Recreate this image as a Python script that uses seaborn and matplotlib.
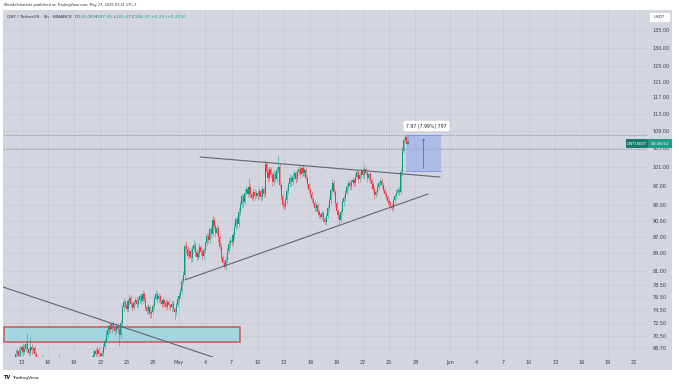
import numpy as np
import pandas as pd
import matplotlib
matplotlib.use("Agg")
import matplotlib.pyplot as plt
from matplotlib.patches import Rectangle
from matplotlib.ticker import NullLocator, FixedLocator, NullFormatter
import seaborn as sns

sns.set_theme(style="white")
plt.rcParams['font.family'] = ['DejaVu Sans']

W, H = 679, 385
BG = '#d3d6de'
GRID = '#c7cad2'
UP = '#089981'
DOWN = '#f23645'

# ---------------- data (4h candles, index 0 = Apr 11 00:00) ----------------
first_open = 64.3
closes = [
    64.5, 65.2, 64.8, 65.6, 66.1, 66.8,
    66.4, 67.0, 67.9, 68.3, 67.6, 68.4,
    68.8, 68.1, 68.6, 69.3, 68.5, 68.0,
    68.9, 68.4, 68.7, 67.8, 67.2, 66.5,
    66.0, 66.7, 67.3, 66.2, 65.4, 64.9,
    64.2, 63.8, 64.5, 63.9, 63.2, 63.6,
    64.1, 64.8, 65.3, 64.6, 64.0, 63.7,
    63.5, 63.9, 64.4, 64.1, 63.8, 64.2,
    64.6, 64.3, 64.9, 65.2, 64.7, 65.0,
    65.4, 65.1, 65.7, 66.2, 65.8, 66.3,
    66.9, 67.6, 68.2, 67.9, 68.4, 67.8,
    67.5, 68.0, 68.9, 69.8, 70.6, 71.4,
    72.0, 71.6, 72.3, 71.8, 71.2, 72.0,
    71.5, 70.6, 72.4, 74.9, 75.8, 75.2,
    74.6, 75.9, 76.4, 75.5, 74.8, 75.7,
    76.1, 75.4, 76.0, 76.8, 75.9, 77.1,
    76.2, 75.0, 74.3, 74.9, 73.8, 74.2,
    75.1, 76.3, 77.0, 76.2, 76.8, 75.9,
    75.4, 76.0, 75.6, 75.0, 75.8, 75.2,
    74.9, 75.5, 74.7, 74.2, 75.3, 76.2,
    76.8, 77.6, 79.2, 80.3, 85.4, 84.7,
    83.6, 84.5, 83.1, 84.8, 85.6, 84.2,
    83.4, 84.0, 85.1, 84.3, 83.5, 84.6,
    85.8, 87.1, 86.5, 88.4, 87.6, 90.2,
    89.0, 87.8, 88.6, 86.9, 85.2, 83.4,
    82.3, 81.6, 82.9, 84.5, 85.7, 86.3,
    86.0, 87.4, 88.9, 90.3, 89.4, 91.8,
    93.2, 94.8, 93.6, 95.5, 96.3, 95.4,
    96.8, 95.2, 94.5, 95.8, 94.9, 95.6,
    94.8, 95.9, 94.6, 96.3, 95.3, 101.6,
    99.8, 98.6, 100.4, 99.2, 97.8, 99.5,
    98.4, 100.2, 101.0, 97.2, 94.8, 93.1,
    92.9, 94.1, 96.0, 97.3, 98.6, 97.8,
    98.9, 99.6, 98.3, 99.8, 100.6, 99.4,
    100.8, 99.7, 100.3, 98.7, 97.4, 96.2,
    95.3, 94.2, 93.5, 92.6, 93.1, 91.8,
    91.2, 90.8, 91.5, 90.4, 89.8, 91.0,
    92.5, 94.0, 96.1, 97.6, 95.8, 93.4,
    92.0, 91.1, 90.2, 91.8, 93.6, 94.5,
    95.6, 96.8, 97.5, 96.9, 97.8, 98.2,
    97.6, 98.9, 99.8, 98.4, 99.3, 100.1,
    99.2, 100.5, 99.7, 98.6, 99.4, 98.2,
    97.4, 96.3, 95.1, 95.7, 96.8, 97.5,
    98.0, 97.1, 96.2, 95.4, 94.6, 93.8,
    93.5, 92.9, 92.6, 94.0, 94.8, 95.6,
    96.2, 95.7, 99.8, 104.5, 106.9, 107.5,
    106.08, 106.37,
]
upper_wicks = [
    .4, .5, .3, .6, .4, .5,
    .5, .4, .6, .3, .5, .7,
    .4, .6, .5, .3, 1.7, .4,
    1.4, .5, .3, .4, .5, .3,
    .4, .5, .5, .3, .4, .3,
    .4, .3, .5, .4, .3, .4,
    .5, .6, 2.6, .4, .3, .5,
    .3, .4, .5, .3, .4, .3,
    .4, .5, .3, .6, .4, .3,
    .5, .3, .4, .6, .3, .5,
    .5, .6, .4, .5, .6, .4,
    .3, .4, .5, .4, .6, .5,
    .6, .4, .3, .5, .4, .5,
    .4, .3, .5, .4, .6, .5,
    .5, .4, .6, .5, .3, .4,
    .4, .6, .5, .3, .4, .6,
    .5, .4, .3, .5, .4, .3,
    .4, .5, .7, .4, .5, .3,
    .4, .5, .3, .4, .5, .4,
    .3, .4, .5, .3, .4, .5,
    .5, .4, .6, .7, .5, .8,
    .6, .7, .5, .6, .8, .5,
    .5, .6, .7, .5, .4, .6,
    .5, .7, .6, .5, .6, .8,
    .6, .5, .7, .4, .5, .6,
    .4, .5, .6, .5, .7, .6,
    .5, .6, .7, .5, .6, .8,
    .7, .6, .5, .8, .6, .5,
    1.8, .6, .5, .7, .5, .6,
    .6, .7, .5, .6, .5, .8,
    .7, .6, .8, .5, .6, .7,
    .6, .7, 2.5, .6, .5, .4,
    .5, .6, .7, .5, .8, .6,
    .7, .6, .5, .7, .6, .5,
    .6, .5, .7, .6, .5, .4,
    .5, .6, .4, .5, .6, .4,
    .5, .4, .6, .5, .4, .5,
    .6, .7, .5, .8, .6, .5,
    .5, .4, .6, .5, .7, .6,
    .6, .5, .7, .6, .5, .6,
    .5, .7, .6, .5, .6, .7,
    .6, .9, .5, .6, .5, .4,
    .5, .6, .4, .5, .6, .5,
    .7, .5, .4, .6, .5, .4,
    .5, .4, .6, .5, .6, .7,
    .6, .5, .7, .8, .6, .5,
    .45, 1.58,
]
lower_wicks = [
    .4, .5, .3, .4, .5, .3,
    .5, .4, .3, .6, .4, .3,
    .4, .5, .3, .4, .5, .4,
    .3, .5, .4, .3, .5, .4,
    .4, .3, .5, .4, .3, .5,
    .3, .4, .3, .5, .4, .3,
    .4, .3, .5, .4, .3, .4,
    .3, .4, .3, .4, .5, .3,
    .4, .3, .5, .4, .3, .4,
    .3, .4, .3, .5, .4, .3,
    .5, .4, .6, .3, .5, .4,
    .4, .3, .5, .4, .3, .5,
    .4, .5, .6, .4, .5, .3,
    .5, 1.6, .4, .5, .6, .4,
    .5, .4, .6, .5, .4, .3,
    .4, .6, .5, .4, .5, .3,
    .4, .5, .6, .4, .6, .5,
    .4, .5, .3, .6, .4, .5,
    .5, .4, .6, .5, .4, .5,
    .4, .5, .6, 1.3, .5, .4,
    .5, .4, .6, .5, .7, .6,
    .6, .5, .7, .6, .5, .7,
    .5, .6, .7, .5, .6, .5,
    .6, .5, .7, .6, .8, .5,
    .6, .7, .5, .8, .6, .7,
    .6, .4, .5, .6, .5, .7,
    .5, .6, .7, .6, .8, .5,
    .6, .7, .8, .6, .5, .7,
    .6, .7, .5, .6, .8, .5,
    .7, .6, .8, .5, .6, .7,
    .6, .8, .7, .6, .9, .6,
    .7, .6, .5, .7, .8, .6,
    .5, .6, .7, .6, .5, .8,
    .6, .7, .8, .6, .5, .7,
    .5, .6, .7, .8, .6, .7,
    .6, .7, .5, .8, .6, .7,
    .6, .5, .7, .6, .3, .6,
    .5, .6, .7, .5, .8, .6,
    .6, .7, .7, .5, .6, .7,
    .6, .5, .7, .6, .8, .5,
    .7, .6, .5, .8, .6, .7,
    .6, .7, .5, .8, .6, .7,
    .7, .6, .8, .5, .7, .6,
    .6, .7, .5, .8, .6, .7,
    .6, .5, .4, .6, .7, .5,
    .6, .7, .5, .8, .6, .7,
    .4, .41,
]

price_ticks = [68.7, 70.5, 72.5, 74.5, 76.5, 78.5, 81, 84, 87, 90, 93, 97,
               101, 105, 109, 113, 117, 121, 125, 130, 135]
date_days = [2, 5, 8, 11, 14, 17, 20, 23, 26, 29, 32, 35, 38, 41, 44, 47,
             51, 54, 57, 60, 63, 66, 69, 72]
date_labels = ['13', '16', '19', '22', '25', '28', 'May', '4', '7', '10', '13',
               '16', '19', '22', '25', '28', 'Jun', '4', '7', '10', '13', '16',
               '19', '22']

# annotation drawings (candle index, price)
resistance_x = [134.4, 299.0]
resistance_y = [103.1, 98.8]
support_x = [124.1, 290.7]
support_y = [79.4, 95.3]
down_x = [-16.5, 150.2]
down_y = [79.5, 66.9]
zone_x = [0.0, 161.8]
zone_y = [69.6, 71.8]
measure_x = [275.7, 299.7]
measure_y = [99.98, 107.95]

# ---------------- build dataframe ----------------
opens = [first_open] + closes[:-1]
df = pd.DataFrame({'open': opens, 'close': closes,
                   'uw': upper_wicks, 'lw': lower_wicks})
df['idx'] = np.arange(len(df))
df['high'] = df[['open', 'close']].max(axis=1) + df['uw']
df['low'] = df[['open', 'close']].min(axis=1) - df['lw']
df['up'] = df['close'] >= df['open']

fig = plt.figure(figsize=(W / 100, H / 100), dpi=100)
fig.patch.set_facecolor('white')


def fx(px):
    return px / W


def fy(py):
    return 1 - py / H


# chart background frame
fig.add_artist(Rectangle((fx(3), fy(370)), fx(672) - fx(3), fy(10) - fy(370),
                         transform=fig.transFigure, facecolor=BG,
                         edgecolor='none', zorder=0))

ax = fig.add_axes([fx(3), fy(357), (647 - 3) / W, (357 - 10) / H])
ax.set_facecolor(BG)
ax.set_yscale('log')
ax.set_xlim(-0.7, 440.9)
ax.set_ylim(67.4, 140.9)

# grid
ax.yaxis.set_major_locator(FixedLocator(price_ticks))
ax.yaxis.set_minor_locator(NullLocator())
ax.yaxis.set_minor_formatter(NullFormatter())
ax.set_yticks(price_ticks)
ax.set_yticklabels([f'{p:.2f}' for p in price_ticks])
ax.set_xticks([6 * d for d in date_days])
ax.set_xticklabels(date_labels)
ax.grid(True, color=GRID, lw=0.5, zorder=0)
ax.set_axisbelow(True)
ax.tick_params(axis='y', labelleft=False, labelright=True, length=0, pad=4.0,
               labelsize=3.5, labelcolor='#3a3e48')
ax.tick_params(axis='x', length=0, pad=2.5, labelsize=3.5, labelcolor='#3a3e48')
for s in ax.spines.values():
    s.set_visible(False)

# zone rectangle
ax.add_patch(Rectangle((zone_x[0], zone_y[0]), zone_x[1] - zone_x[0],
                       zone_y[1] - zone_y[0], facecolor='#a3d6df',
                       edgecolor='#c9575c', lw=1.1, zorder=2))

# candles
colors = np.where(df['up'], UP, DOWN)
ax.vlines(df['idx'], df['low'], df['high'], colors=colors, lw=0.6,
          alpha=0.55, zorder=3)
body_bottom = df[['open', 'close']].min(axis=1)
body_h = (df['close'] - df['open']).abs().clip(lower=0.08)
ax.bar(df['idx'], body_h, bottom=body_bottom, width=0.75, color=colors,
       lw=0, zorder=4)

# trend lines via seaborn
for lx, ly in [(resistance_x, resistance_y), (support_x, support_y),
               (down_x, down_y)]:
    sns.lineplot(x=lx, y=ly, ax=ax, color='#62656e', lw=0.8,
                 estimator=None, sort=False, zorder=5)

# dotted lines
ax.axhline(107.95, color='#8a8d96', lw=0.6, ls=(0, (1.5, 1.5)), zorder=2)
ax.axhline(104.9, color='#8a8d96', lw=0.6, ls=(0, (1.5, 1.5)), zorder=2)

# measure box
ax.add_patch(Rectangle((measure_x[0], measure_y[0]),
                       measure_x[1] - measure_x[0], measure_y[1] - measure_y[0],
                       facecolor='#8fa8ef', alpha=0.55, edgecolor='none',
                       zorder=3))
ax.plot(measure_x, [measure_y[1]] * 2, color='#6f8fe8', lw=0.6, zorder=4)
ax.plot(measure_x, [measure_y[0]] * 2, color='#6f8fe8', lw=0.6, zorder=4)
mid = (measure_x[0] + measure_x[1]) / 2
ax.annotate('', xy=(mid, measure_y[1]), xytext=(mid, measure_y[0]),
            arrowprops=dict(arrowstyle='-|>', color='#4a6fdc', lw=0.6,
                            mutation_scale=3), zorder=5)
ax.text(mid + 2, 110.1, '7.97 (7.99%) 797', fontsize=3.3, color='#1f2329',
        ha='center', va='center', zorder=6,
        bbox=dict(boxstyle='round,pad=0.6,rounding_size=0.4', fc='white',
                  ec='none'))

# current price label
fig.add_artist(Rectangle((fx(626), fy(148)), fx(648) - fx(626), fy(139) - fy(148),
                         transform=fig.transFigure, facecolor='#177a68',
                         edgecolor='none', zorder=10))
fig.add_artist(Rectangle((fx(648), fy(148)), fx(672) - fx(648), fy(139) - fy(148),
                         transform=fig.transFigure, facecolor='#1f9c85',
                         edgecolor='none', zorder=10))
fig.text(fx(637), fy(143.5), 'QNTUSDT', fontsize=3.0, color='white',
         ha='center', va='center', zorder=11)
fig.text(fx(660), fy(143.5), '03:38:51', fontsize=3.0, color='white',
         ha='center', va='center', zorder=11)

# USDT box
fig.add_artist(Rectangle((fx(649), fy(22)), fx(670) - fx(649), fy(12) - fy(22),
                         transform=fig.transFigure, facecolor='white',
                         edgecolor='#c9ccd4', lw=0.4, zorder=10))
fig.text(fx(659.5), fy(17), 'USDT', fontsize=3.0, color='#2a2e39',
         ha='center', va='center', zorder=11)

# header texts
fig.text(fx(4), fy(5), 'Worldofchartsfx published on TradingView.com, May 27, 2025 01:21 UTC-3',
         fontsize=2.55, color='#2a2e39', ha='left', va='center')

renderer = fig.canvas.get_renderer()
parts = [('QNT / TetherUS · 4h · BINANCE  ', '#2a2e39'), ('O', '#2a2e39'),
         ('106.08 ', UP), ('H', '#2a2e39'), ('107.95 ', UP), ('L', '#2a2e39'),
         ('105.67 ', UP), ('C', '#2a2e39'), ('106.37 ', UP), ('+0.33 (+0.31%)', UP)]
xcur = 7.0
for s, c in parts:
    t = fig.text(fx(xcur), fy(16.5), s, fontsize=3.1, color=c, ha='left',
                 va='center', zorder=11)
    bb = t.get_window_extent(renderer=renderer)
    xcur += bb.width

# TradingView logo
fig.text(fx(4), fy(377.5), 'TV', fontsize=3.6, color='#131722', ha='left',
         va='center', fontweight='bold')
fig.text(fx(12), fy(377.5), 'TradingView', fontsize=3.2, color='#131722',
         ha='left', va='center')

fig.savefig('out.png', dpi=100, facecolor='white')
